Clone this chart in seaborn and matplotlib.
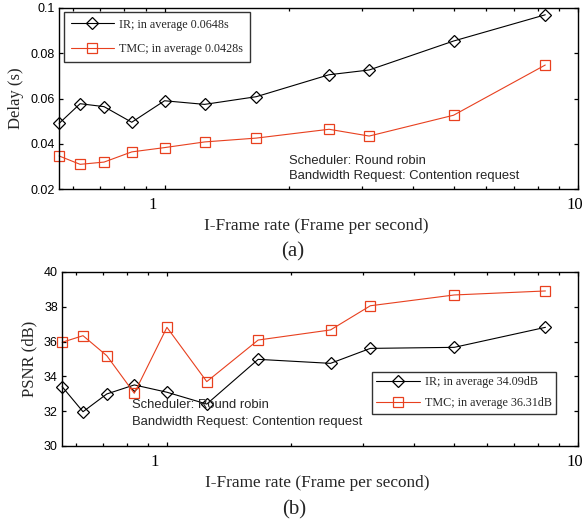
import numpy as np
import pandas as pd
import matplotlib
matplotlib.use("Agg")
import matplotlib.pyplot as plt
import matplotlib.transforms as mtransforms
from matplotlib.ticker import FixedLocator, NullFormatter
import seaborn as sns

# ---------------- data ----------------
iframe_rate = [0.556, 0.625, 0.714, 0.833, 1.0, 1.25, 1.667, 2.5, 3.125, 5.0, 8.333]

delay_ir = [0.0490, 0.0577, 0.0564, 0.0495, 0.0590, 0.0574, 0.0608, 0.0705, 0.0726, 0.0854, 0.0970]
delay_tmc = [0.0346, 0.0309, 0.0319, 0.0364, 0.0383, 0.0408, 0.0425, 0.0464, 0.0434, 0.0526, 0.0748]

psnr_ir = [33.41, 31.97, 32.99, 33.51, 33.09, 32.41, 34.98, 34.75, 35.61, 35.67, 36.82]
psnr_tmc = [35.96, 36.34, 35.19, 33.03, 36.82, 33.70, 36.09, 36.67, 38.06, 38.68, 38.91]

delay_labels = ["IR; in average 0.0648s", "TMC; in average 0.0428s"]
psnr_labels = ["IR; in average 34.09dB", "TMC; in average 36.31dB"]
delay_yticks = [0.02, 0.04, 0.06, 0.08, 0.1]
delay_yticklabels = ["0.02", "0.04", "0.06", "0.08", "0.1"]
psnr_yticks = [30, 32, 34, 36, 38, 40]
x_ticks = [1, 10]
x_ticklabels = ["1", "10"]
x_minor_ticks = [0.6, 0.7, 0.8, 0.9, 2, 3, 4, 5, 6, 7, 8, 9]
annot_lines = ["Scheduler: Round robin", "Bandwidth Request: Contention request"]
xlabel = "I-Frame rate (Frame per second)"

RED = "#E8401F"
SANS = "Liberation Sans"
SERIF = "Liberation Serif"

sns.set_theme(style="ticks")
plt.rcParams["font.family"] = [SANS, "DejaVu Sans"]

W, H = 585, 524
fig = plt.figure(figsize=(W / 100, H / 100), dpi=100)
fig.patch.set_facecolor("white")


def px_axes(left, top, right, bottom):
    return fig.add_axes([left / W, 1 - bottom / H, (right - left) / W, (bottom - top) / H])


ax1 = px_axes(59, 8, 578, 189)
ax2 = px_axes(62, 272, 578, 446)


def draw(ax, y_ir, y_tmc, labels):
    df = pd.DataFrame({"x": iframe_rate, "ir": y_ir, "tmc": y_tmc})
    sns.lineplot(data=df, x="x", y="ir", ax=ax, color="black", lw=0.8,
                 marker="D", markersize=6, markerfacecolor="none",
                 markeredgecolor="black", markeredgewidth=0.9,
                 label=labels[0], clip_on=False, sort=False)
    sns.lineplot(data=df, x="x", y="tmc", ax=ax, color=RED, lw=0.8,
                 marker="s", markersize=7, markerfacecolor="none",
                 markeredgecolor=RED, markeredgewidth=0.9,
                 label=labels[1], clip_on=False, sort=False)


def style(ax, yticks, yticklabels, ylim):
    ax.set_xscale("log")
    ax.set_xlim(0.5556, 10)
    ax.set_ylim(*ylim)
    ax.set_yticks(yticks)
    ax.set_yticklabels(yticklabels)
    ax.set_xticks(x_ticks)
    ax.set_xticklabels(x_ticklabels, fontfamily=SERIF, fontsize=12)
    ax.set_xticks(x_minor_ticks, minor=True)
    ax.xaxis.set_minor_formatter(NullFormatter())
    ax.yaxis.set_minor_locator(FixedLocator([]))
    ax.tick_params(axis="x", which="major", direction="in", top=True, bottom=True,
                   color="black", width=0.9, length=3.2, pad=6, labelcolor="black")
    ax.tick_params(axis="x", which="minor", direction="in", top=True, bottom=True,
                   color="black", width=0.9, length=2.2)
    ax.tick_params(axis="y", which="major", direction="in", left=True, right=True,
                   color="black", width=0.9, length=3.2, labelsize=9, pad=3,
                   labelcolor="black")
    for lab in ax.get_yticklabels():
        lab.set_fontfamily(SANS)
    for sp in ax.spines.values():
        sp.set_visible(True)
        sp.set_color("black")
        sp.set_linewidth(1.0)
    ax.grid(False)
    # shift the tick labels like the reference
    for lab in ax.get_xticklabels():
        dx = -12 if lab.get_text() == "1" else -3
        lab.set_transform(lab.get_transform() +
                          mtransforms.ScaledTranslation(dx / 100, 0, fig.dpi_scale_trans))


draw(ax1, delay_ir, delay_tmc, delay_labels)
draw(ax2, psnr_ir, psnr_tmc, psnr_labels)
style(ax1, delay_yticks, delay_yticklabels, (0.02, 0.1))
style(ax2, psnr_yticks, [str(v) for v in psnr_yticks], (30, 40))

ax1.set_xlabel(xlabel, fontfamily=SERIF, fontsize=12.4)
ax2.set_xlabel(xlabel, fontfamily=SERIF, fontsize=12.4)
ax1.xaxis.set_label_coords(0.495, -0.16)
ax2.xaxis.set_label_coords(0.495, -0.165)
ax1.set_ylabel("Delay (s)", fontfamily=SERIF, fontsize=12)
ax2.set_ylabel("PSNR (dB)", fontfamily=SERIF, fontsize=12)
ax1.yaxis.set_label_coords(-0.068, 0.5)
ax2.yaxis.set_label_coords(-0.048, 0.5)

leg1 = ax1.legend(loc="upper left", bbox_to_anchor=(0.0096, 0.978), borderaxespad=0,
                  prop={"family": SERIF, "size": 8.7}, frameon=True, fancybox=False,
                  edgecolor="black", handlelength=3.6, labelspacing=1.05,
                  borderpad=0.55, handletextpad=0.4)
leg1.get_frame().set_linewidth(1.0)
leg2 = ax2.legend(loc="upper left", bbox_to_anchor=(0.601, 0.425), borderaxespad=0,
                  prop={"family": SERIF, "size": 8.7}, frameon=True, fancybox=False,
                  edgecolor="black", handlelength=3.6, labelspacing=0.75,
                  borderpad=0.35, handletextpad=0.4)
leg2.get_frame().set_linewidth(1.0)

ax1.text(0.443, 0.155, annot_lines[0], transform=ax1.transAxes, fontsize=9.4,
         fontfamily=SANS, va="center", ha="left")
ax1.text(0.443, 0.072, annot_lines[1], transform=ax1.transAxes, fontsize=9.4,
         fontfamily=SANS, va="center", ha="left")
ax2.text(0.1357, 0.236, annot_lines[0], transform=ax2.transAxes, fontsize=9.4,
         fontfamily=SANS, va="center", ha="left")
ax2.text(0.1357, 0.138, annot_lines[1], transform=ax2.transAxes, fontsize=9.4,
         fontfamily=SANS, va="center", ha="left")

fig.text(293 / W, 1 - 252 / H, "(a)", fontfamily=SERIF, fontsize=15, ha="center", va="center")
fig.text(294 / W, 1 - 510 / H, "(b)", fontfamily=SERIF, fontsize=15, ha="center", va="center")

fig.savefig("out.png", dpi=100, facecolor="white")
